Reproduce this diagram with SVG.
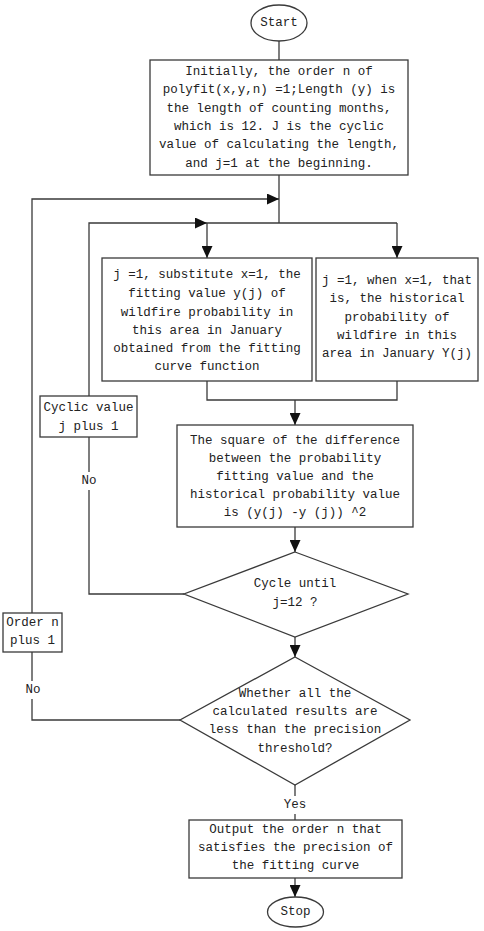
<svg xmlns="http://www.w3.org/2000/svg" width="484" height="931" viewBox="0 0 484 931">
<style>
.n{fill:#fff;stroke:#3a3a3a;stroke-width:1.3}
.c{fill:none;stroke:#3a3a3a;stroke-width:1.3}
text{font-family:"Liberation Mono","DejaVu Sans Mono",monospace;font-size:12.5px;fill:#222;text-anchor:middle;dominant-baseline:central}
.lb{fill:#fff;stroke:none}
</style>
<defs>
<marker id="a" markerUnits="userSpaceOnUse" markerWidth="12" markerHeight="11" refX="12" refY="5.5" orient="auto" viewBox="0 0 12 11">
<path d="M0,0 L12,5.5 L0,11 z" fill="#111"/>
</marker>
</defs>
<rect width="484" height="931" fill="#fff"/>
<g id="connectors">
<line class="c" x1="279" y1="41" x2="279" y2="60"/>
<line class="c" x1="279" y1="175" x2="279" y2="223"/>
<polyline class="c" points="32,613 32,199 279,199" marker-end="url(#a)"/>
<polyline class="c" points="89,396 89,223 207,223" marker-end="url(#a)"/>
<line class="c" x1="207" y1="223" x2="397" y2="223"/>
<line class="c" x1="207" y1="223" x2="207" y2="258" marker-end="url(#a)"/>
<line class="c" x1="397" y1="223" x2="397" y2="258" marker-end="url(#a)"/>
<polyline class="c" points="207,381 207,400 397,400 397,381"/>
<line class="c" x1="295" y1="400" x2="295" y2="425" marker-end="url(#a)"/>
<line class="c" x1="295" y1="527" x2="295" y2="552" marker-end="url(#a)"/>
<polyline class="c" points="184,594 89,594 89,437"/>
<line class="c" x1="295" y1="637" x2="295" y2="657" marker-end="url(#a)"/>
<polyline class="c" points="180,720 32,720 32,652"/>
<line class="c" x1="295" y1="785" x2="295" y2="820"/>
<line class="c" x1="295" y1="878" x2="295" y2="897" marker-end="url(#a)"/>
<rect class="lb" x="78" y="472" width="22" height="18"/>
<text x="89" y="481">No</text>
<rect class="lb" x="21" y="681" width="22" height="18"/>
<text x="33" y="690">No</text>
<rect class="lb" x="281" y="796" width="28" height="18"/>
<text x="295" y="805">Yes</text>
</g>
<g id="start">
<ellipse class="n" cx="279" cy="23" rx="28" ry="18"/>
<text x="279" y="23">Start</text>
</g>
<g id="init">
<rect class="n" x="150" y="60" width="258" height="115"/>
<text x="279" y="72">Initially, the order n of</text>
<text x="279" y="90">polyfit(x,y,n) =1;Length (y) is</text>
<text x="279" y="109">the length of counting months,</text>
<text x="279" y="127">which is 12. J is the cyclic</text>
<text x="279" y="145">value of calculating the length,</text>
<text x="279" y="164">and j=1 at the beginning.</text>
</g>
<g id="fit">
<rect class="n" x="102" y="258" width="210" height="123"/>
<text x="207" y="275">j =1, substitute x=1, the</text>
<text x="207" y="294">fitting value y(j) of</text>
<text x="207" y="313">wildfire probability in</text>
<text x="207" y="331">this area in January</text>
<text x="207" y="349">obtained from the fitting</text>
<text x="207" y="367">curve function</text>
</g>
<g id="hist">
<rect class="n" x="316" y="258" width="162" height="123"/>
<text x="397" y="281">j =1, when x=1, that</text>
<text x="397" y="299">is, the historical</text>
<text x="397" y="318">probability of</text>
<text x="397" y="336">wildfire in this</text>
<text x="397" y="354">area in January Y(j)</text>
</g>
<g id="cyclic">
<rect class="n" x="40" y="396" width="97" height="41"/>
<text x="88.5" y="408">Cyclic value</text>
<text x="88.5" y="427">j plus 1</text>
</g>
<g id="square">
<rect class="n" x="177" y="425" width="236" height="102"/>
<text x="295" y="441">The square of the difference</text>
<text x="295" y="459">between the probability</text>
<text x="295" y="477">fitting value and the</text>
<text x="295" y="495">historical probability value</text>
<text x="295" y="513">is (y(j) -y (j)) ^2</text>
</g>
<g id="cycle">
<polygon class="n" points="295,552 408,594 295,637 184,594"/>
<text x="295" y="584">Cycle until</text>
<text x="295" y="603">j=12 ?</text>
</g>
<g id="order">
<rect class="n" x="3" y="613" width="59" height="39"/>
<text x="32.5" y="623">Order n</text>
<text x="32.5" y="641">plus 1</text>
</g>
<g id="precision">
<polygon class="n" points="295,657 410,720 295,785 180,720"/>
<text x="295" y="694">Whether all the</text>
<text x="295" y="712">calculated results are</text>
<text x="295" y="730">less than the precision</text>
<text x="295" y="749">threshold?</text>
</g>
<g id="output">
<rect class="n" x="189" y="820" width="213" height="58"/>
<text x="295.5" y="830">Output the order n that</text>
<text x="295.5" y="848">satisfies the precision of</text>
<text x="295.5" y="866">the fitting curve</text>
</g>
<g id="stop">
<ellipse class="n" cx="295.5" cy="912" rx="28" ry="15"/>
<text x="295.5" y="912">Stop</text>
</g>
</svg>
